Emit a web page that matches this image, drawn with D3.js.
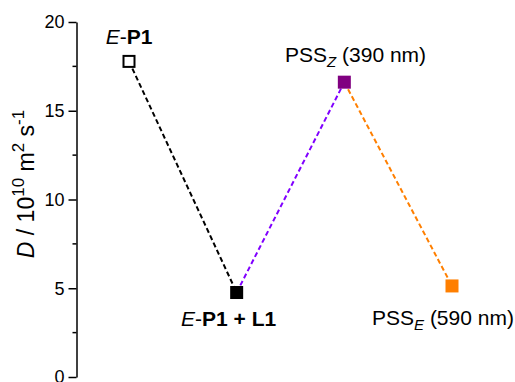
<!DOCTYPE html>
<html>
<head>
<meta charset="utf-8">
<script src="https://cdn.jsdelivr.net/npm/d3@7"></script>
<style>
  body { margin: 0; background: #fff; }
  text { font-family: "Liberation Sans", Arial, sans-serif; }
</style>
</head>
<body>
<div id="chart"></div>
<script>
// data
const states = ["E-P1", "E-P1 + L1", "PSS_Z", "PSS_E"];
const positions = [1, 2, 3, 4];
const dValues = [17.78, 4.76, 16.61, 5.13];
const markerFill = ["#ffffff", "#000000", "#800080", "#ff7f00"];
const segmentColors = ["#000000", "#8000ff", "#ff7f00"];
const yTicks = [0, 5, 10, 15, 20];
const yMinorTicks = [2.5, 7.5, 12.5, 17.5];

const width = 515, height = 382;

const svg = d3.select("#chart")
  .append("svg")
    .attr("width", width)
    .attr("height", height);

const x = d3.scaleLinear()
  .domain([1, 4])
  .range([129, 452]);

const y = d3.scaleLinear()
  .domain([0, 20])
  .range([377, 22]);

const axisX = 76.5;

// y axis
const yAxis = svg.append("g")
  .attr("transform", "translate(" + axisX + ",0)")
  .call(d3.axisLeft(y).tickValues(yTicks).tickSize(8).tickPadding(4).tickSizeOuter(0));
yAxis.select(".domain").attr("stroke", "#000").attr("stroke-width", 1.5);
yAxis.selectAll(".tick line").attr("stroke-width", 1.5);
yAxis.selectAll(".tick text")
  .attr("font-size", 18)
  .attr("font-family", "Liberation Sans, Arial, sans-serif")
  .attr("fill", "#000");

// minor ticks
svg.append("g")
  .selectAll("line")
  .data(yMinorTicks)
  .enter()
  .append("line")
    .attr("x1", axisX - 4)
    .attr("x2", axisX)
    .attr("y1", function (d) { return y(d); })
    .attr("y2", function (d) { return y(d); })
    .attr("stroke", "#000")
    .attr("stroke-width", 1.5);

// y axis title
const yTitle = svg.append("text")
  .attr("transform", "translate(34," + 184 + ") rotate(-90)")
  .attr("text-anchor", "middle")
  .attr("font-size", 23)
  .attr("fill", "#000");
yTitle.append("tspan").attr("font-style", "italic").text("D");
yTitle.append("tspan").text(" / 10");
yTitle.append("tspan").attr("font-size", 17).attr("dy", -10).text("10");
yTitle.append("tspan").attr("dy", 10).text(" m");
yTitle.append("tspan").attr("font-size", 17).attr("dy", -10).text("2");
yTitle.append("tspan").attr("dy", 10).text(" s");
yTitle.append("tspan").attr("font-size", 17).attr("dy", -10).text("-1");

// dashed segments
const segs = d3.range(positions.length - 1);
svg.append("g")
  .selectAll("line")
  .data(segs)
  .enter()
  .append("line")
    .attr("x1", function (i) { return x(positions[i]); })
    .attr("y1", function (i) { return y(dValues[i]); })
    .attr("x2", function (i) { return x(positions[i + 1]); })
    .attr("y2", function (i) { return y(dValues[i + 1]); })
    .attr("stroke", function (i) { return segmentColors[i]; })
    .attr("stroke-width", 2)
    .attr("stroke-dasharray", "5,3");

// markers
const ms = 13;
svg.append("g")
  .selectAll("rect")
  .data(positions)
  .enter()
  .append("rect")
    .attr("x", function (d, i) { return x(d) - ms / 2 + (i === 0 ? 1 : 0); })
    .attr("y", function (d, i) { return y(dValues[i]) - ms / 2 + (i === 0 ? 1 : 0); })
    .attr("width", function (d, i) { return i === 0 ? ms - 2 : ms; })
    .attr("height", function (d, i) { return i === 0 ? ms - 2 : ms; })
    .attr("fill", function (d, i) { return markerFill[i]; })
    .attr("stroke", function (d, i) { return i === 0 ? "#000" : "none"; })
    .attr("stroke-width", 2);

// labels
const fs = 21;
function label(px, py, anchor) {
  return svg.append("text")
    .attr("x", px)
    .attr("y", py)
    .attr("text-anchor", anchor)
    .attr("font-size", fs)
    .attr("fill", "#000");
}

// E-P1
const l0 = label(x(positions[0]), 44, "middle");
l0.append("tspan").attr("font-style", "italic").text("E");
l0.append("tspan").text("-");
l0.append("tspan").attr("font-weight", "bold").text("P1");

// E-P1 + L1
const l1 = label(181, 326, "start");
l1.append("tspan").attr("font-style", "italic").text("E");
l1.append("tspan").text("-");
l1.append("tspan").attr("font-weight", "bold").text("P1 + L1");

// PSS_Z
const l2 = label(285, 62, "start");
l2.append("tspan").text("PSS");
l2.append("tspan").attr("font-style", "italic").attr("font-size", 15).attr("dy", 5).text("Z");
l2.append("tspan").attr("dy", -5).text(" (390 nm)");

// PSS_E
const l3 = label(372, 325, "start");
l3.append("tspan").text("PSS");
l3.append("tspan").attr("font-style", "italic").attr("font-size", 15).attr("dy", 5).text("E");
l3.append("tspan").attr("dy", -5).text(" (590 nm)");
</script>
</body>
</html>
